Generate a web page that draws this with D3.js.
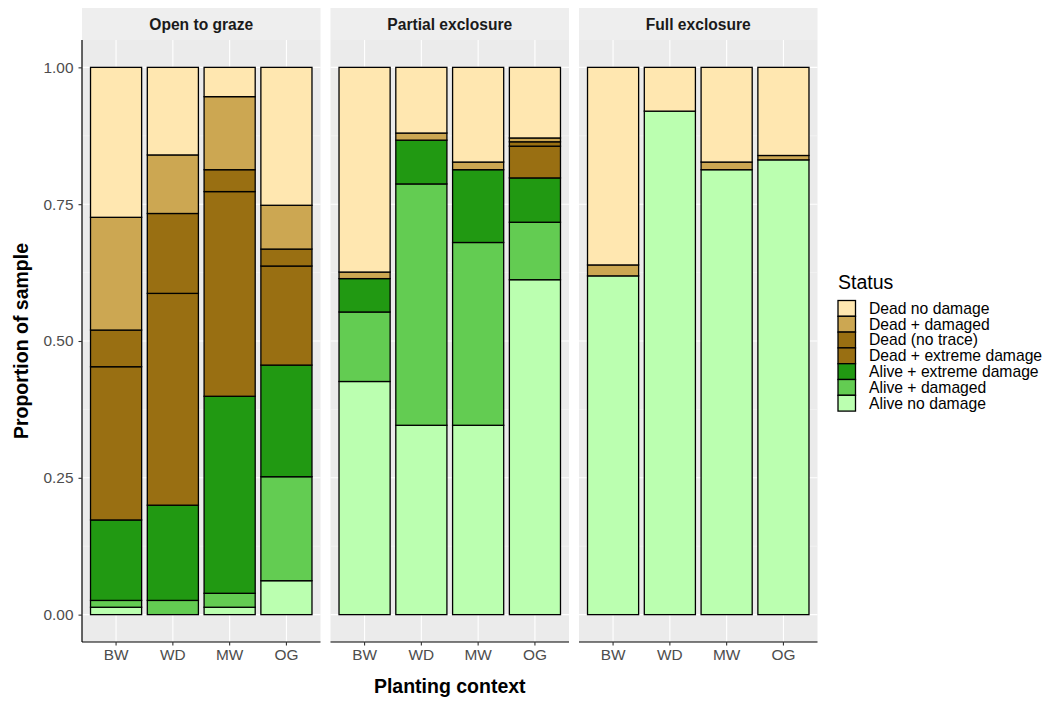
<!DOCTYPE html>
<html>
<head>
<meta charset="utf-8">
<script src="https://cdn.jsdelivr.net/npm/d3@7"></script>
<style>
  html, body { margin: 0; padding: 0; background: #ffffff; }
  svg { display: block; font-family: "Liberation Sans", Arial, Helvetica, sans-serif; }
</style>
</head>
<body>
<svg id="chart" width="1048" height="702"></svg>
<script>
// Facets and planting contexts
const panels = ["Open to graze", "Partial exclosure", "Full exclosure"];
const contexts = ["BW", "WD", "MW", "OG"];

// Status levels, listed from the bottom of each stack to the top
const statuses = [
  "Alive no damage",
  "Alive + damaged",
  "Alive + extreme damage",
  "Dead + extreme damage",
  "Dead (no trace)",
  "Dead + damaged",
  "Dead no damage"
];
const statusColors = ["#BBFFB0", "#63CC52", "#219912", "#996F12", "#996F12", "#CCA752", "#FFE7B0"];

// Proportion of sample per status; each array runs through the panels in order,
// four contexts (BW, WD, MW, OG) per panel
const aliveNoDamage     = [0.0135, 0.000, 0.0135, 0.062,  0.426, 0.346, 0.346, 0.612,  0.619, 0.920, 0.813, 0.831];
const aliveDamaged      = [0.0125, 0.026, 0.0255, 0.190,  0.127, 0.441, 0.334, 0.105,  0.000, 0.000, 0.000, 0.000];
const aliveExtreme      = [0.147,  0.174, 0.360,  0.204,  0.061, 0.080, 0.133, 0.081,  0.000, 0.000, 0.000, 0.000];
const deadExtreme       = [0.280,  0.387, 0.374,  0.181,  0.000, 0.000, 0.000, 0.058,  0.000, 0.000, 0.000, 0.000];
const deadNoTrace       = [0.067,  0.146, 0.040,  0.031,  0.000, 0.000, 0.000, 0.008,  0.000, 0.000, 0.000, 0.000];
const deadDamaged       = [0.206,  0.107, 0.1335, 0.080,  0.012, 0.013, 0.014, 0.007,  0.020, 0.000, 0.014, 0.008];
const deadNoDamage      = [0.274,  0.160, 0.0535, 0.252,  0.374, 0.120, 0.173, 0.129,  0.361, 0.080, 0.173, 0.161];
const seriesValues = [aliveNoDamage, aliveDamaged, aliveExtreme, deadExtreme, deadNoTrace, deadDamaged, deadNoDamage];

const yTicks = [0, 0.25, 0.5, 0.75, 1];
const yMinor = [0.125, 0.375, 0.625, 0.875];

// Build one row per bar for d3.stack
const rows = [];
panels.forEach((p, pi) => {
  contexts.forEach((c, ci) => {
    const row = { panel: p, context: c };
    statuses.forEach((s, si) => { row[s] = seriesValues[si][pi * contexts.length + ci]; });
    rows.push(row);
  });
});
const stacked = d3.stack().keys(statuses)(rows);

const svg = d3.select("#chart");

// Layout
const panelTop = 40, panelBottom = 642;
const stripTop = 8;
const panelX0 = 82, panelW = 238.5, panelGap = 10;

const y = d3.scaleLinear().domain([-0.05, 1.05]).range([panelBottom, panelTop]);
const color = d3.scaleOrdinal().domain(statuses).range(statusColors);

panels.forEach((p, pi) => {
  const px = panelX0 + pi * (panelW + panelGap);
  const g = svg.append("g").attr("transform", `translate(${px},0)`);
  const x = d3.scaleBand().domain(contexts).range([0, panelW]).paddingInner(0.1).paddingOuter(0.15);

  // panel background
  g.append("rect").attr("x", 0).attr("y", panelTop).attr("width", panelW)
    .attr("height", panelBottom - panelTop).attr("fill", "#EBEBEB");

  // grid
  g.selectAll(".minor").data(yMinor).join("line")
    .attr("x1", 0).attr("x2", panelW).attr("y1", d => y(d)).attr("y2", d => y(d))
    .attr("stroke", "#F7F7F7").attr("stroke-width", 0.6);
  g.selectAll(".major").data(yTicks).join("line")
    .attr("x1", 0).attr("x2", panelW).attr("y1", d => y(d)).attr("y2", d => y(d))
    .attr("stroke", "#FFFFFF").attr("stroke-width", 1.1);
  g.selectAll(".vmajor").data(contexts).join("line")
    .attr("x1", d => x(d) + x.bandwidth() / 2).attr("x2", d => x(d) + x.bandwidth() / 2)
    .attr("y1", panelTop).attr("y2", panelBottom)
    .attr("stroke", "#FFFFFF").attr("stroke-width", 1.1);

  // strip
  g.append("rect").attr("x", 0).attr("y", stripTop).attr("width", panelW)
    .attr("height", panelTop - stripTop).attr("fill", "#EEEEEE");
  g.append("text").attr("x", panelW / 2).attr("y", (stripTop + panelTop) / 2 + 5.5)
    .attr("text-anchor", "middle").attr("font-size", 15.6).attr("font-weight", "bold")
    .attr("fill", "#1A1A1A").text(p);

  // stacked bars
  stacked.forEach((layer, si) => {
    const segs = layer.filter(d => d.data.panel === p && d[1] - d[0] > 0);
    g.selectAll(null).data(segs).join("rect")
      .attr("x", d => x(d.data.context))
      .attr("width", x.bandwidth())
      .attr("y", d => y(d[1]))
      .attr("height", d => y(d[0]) - y(d[1]))
      .attr("fill", color(statuses[si]))
      .attr("stroke", "#000000")
      .attr("stroke-width", 1.3);
  });

  // x axis
  const xAxis = d3.axisBottom(x).tickSize(3.5).tickSizeOuter(0).tickPadding(4);
  const ax = g.append("g").attr("transform", `translate(0,${panelBottom})`).call(xAxis);
  ax.select(".domain").attr("stroke", "#000000").attr("stroke-width", 1.2)
    .attr("d", `M0,0H${panelW}`);
  ax.selectAll(".tick line").attr("stroke", "#333333").attr("stroke-width", 1.1);
  ax.selectAll(".tick text").attr("font-size", 15.4).attr("fill", "#4D4D4D")
    .attr("font-family", "Liberation Sans, Arial, sans-serif");

  if (pi === 0) {
    const yAxis = d3.axisLeft(y).tickValues(yTicks).tickFormat(d3.format(".2f"))
      .tickSize(3.5).tickSizeOuter(0).tickPadding(5);
    const ay = g.append("g").call(yAxis);
    ay.select(".domain").attr("stroke", "#000000").attr("stroke-width", 1.2)
      .attr("d", `M0,${panelTop}V${panelBottom}`);
    ay.selectAll(".tick line").attr("stroke", "#333333").attr("stroke-width", 1.1);
    ay.selectAll(".tick text").attr("font-size", 15.4).attr("fill", "#4D4D4D")
      .attr("font-family", "Liberation Sans, Arial, sans-serif");
  }
});

// axis titles
const plotRight = panelX0 + 3 * panelW + 2 * panelGap;
svg.append("text").attr("x", (panelX0 + plotRight) / 2).attr("y", 693)
  .attr("text-anchor", "middle").attr("font-size", 19.5).attr("font-weight", "bold")
  .attr("fill", "#000000").text("Planting context");
svg.append("text")
  .attr("transform", `translate(28,${(panelTop + panelBottom) / 2}) rotate(-90)`)
  .attr("text-anchor", "middle").attr("font-size", 19.5).attr("font-weight", "bold")
  .attr("fill", "#000000").text("Proportion of sample");

// legend, top entry is the top of the stack
const legend = svg.append("g").attr("transform", "translate(838,0)");
legend.append("text").attr("x", 0).attr("y", 289).attr("font-size", 19.5)
  .attr("fill", "#000000").text("Status");
const legendOrder = statuses.slice().reverse();
const keyStep = 15.8, keyW = 17.5, keyTop = 300.5;
legend.selectAll(".key").data(legendOrder).join("rect")
  .attr("x", 0).attr("y", (d, i) => keyTop + i * keyStep)
  .attr("width", keyW).attr("height", keyStep)
  .attr("fill", d => color(d)).attr("stroke", "#000000").attr("stroke-width", 1.3);
legend.selectAll(".lab").data(legendOrder).join("text")
  .attr("x", 31).attr("y", (d, i) => keyTop + i * keyStep + keyStep / 2 + 5.4)
  .attr("font-size", 15.7).attr("fill", "#000000").text(d => d);
</script>
</body>
</html>
